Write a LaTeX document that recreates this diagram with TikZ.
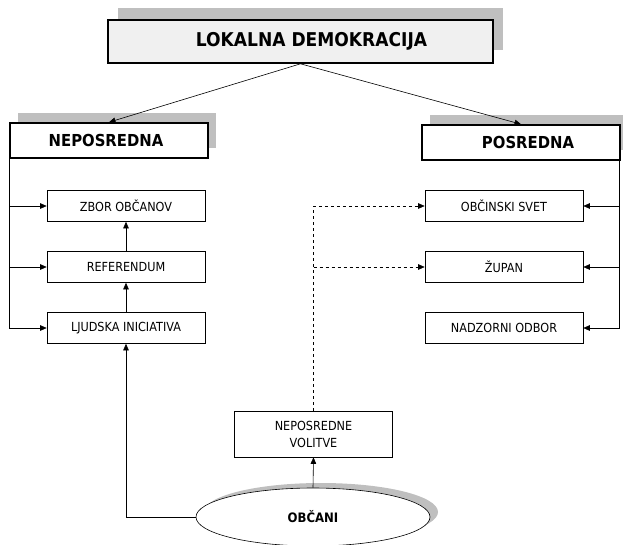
\documentclass[tikz,border=0pt]{standalone}
\usepackage{fontspec}
\setmainfont{DejaVu Sans}[FakeStretch=0.9]
\usetikzlibrary{shapes.geometric,arrows.meta}

\tikzset{
	glava/.style={draw, line width=1.6pt, minimum width=198pt, minimum height=35pt, fill=white, font=\bfseries\fontsize{16.5}{18}\selectfont},
	okvir/.style={draw, line width=0.6pt, minimum width=158pt, minimum height=31pt, font=\fontsize{12.5}{17}\selectfont},
	senca/.style={fill=black!25},
	>={Triangle[length=6.5pt,width=5.5pt]}
}

\begin{document}
\begin{tikzpicture}[x=1pt, y=-1pt]
	\useasboundingbox (0,0) rectangle (623,544);
	% senca
	\fill[senca] (118,8) rectangle (503,50);
	\fill[senca] (18,113) rectangle (216,148);
	\fill[senca] (430,115) rectangle (628,150);
	\fill[senca] (321,512) ellipse [x radius=117pt, y radius=29pt];

	\node[glava, minimum width=385pt, minimum height=43pt, fill=black!6, font=\bfseries\fontsize{19}{21}\selectfont] (LD) at (300.5,41.5) {\hspace*{22pt}LOKALNA DEMOKRACIJA};
	\node[glava] (NEP) at (109,140.5) {NEPOSREDNA\hspace*{6pt}};
	\node[glava] (POS) at (521,142.5) {\hspace*{14pt}POSREDNA};

	\node[okvir] (ZBOR) at (126,206) {ZBOR OBČANOV};
	\node[okvir] (REF) at (126,267) {REFERENDUM};
	\node[okvir] (LJI) at (126,328) {LJUDSKA INICIATIVA};

	\node[okvir] (OBS) at (504,206) {OBČINSKI SVET};
	\node[okvir] (ZUP) at (504,267) {ŽUPAN};
	\node[okvir] (NAD) at (504,328) {NADZORNI ODBOR};

	\node[okvir, minimum height=46pt, align=center] (NV) at (313.5,434) {NEPOSREDNE\\VOLITVE};
	\node[draw, ellipse, line width=0.6pt, fill=white, minimum width=234pt, minimum height=58pt, font=\bfseries\fontsize{13}{15}\selectfont] (OBC) at (313,517) {OBČANI};

	\draw[->, line width=0.6pt] (LD.south) -- (NEP.north);
	\draw[->, line width=0.6pt] (LD.south) -- (POS.north);

	\draw[->, line width=0.6pt] (NEP.south west) |- (LJI.west);
	\draw[->, line width=0.6pt] (NEP.south west |- ZBOR.west) -- (ZBOR.west);
	\draw[->, line width=0.6pt] (NEP.south west |- REF.west) -- (REF.west);
	\draw[->, line width=0.6pt] (REF.north) -- (ZBOR.south);
	\draw[->, line width=0.6pt] (LJI.north) -- (REF.south);

	\draw[->, line width=0.6pt] ([xshift=-2pt]POS.south east) |- (NAD.east);
	\draw[->, line width=0.6pt] ([xshift=-2pt]POS.south east |- OBS.east) -- (OBS.east);
	\draw[->, line width=0.6pt] ([xshift=-2pt]POS.south east |- ZUP.east) -- (ZUP.east);

	\draw[->, dashed, line width=0.6pt] (NV.north) |- (OBS.west);
	\draw[->, dashed, line width=0.6pt] (NV.north |- ZUP.west) -- (ZUP.west);

	\draw[->, line width=0.6pt] (OBC.north) -- (NV.south);
	\draw[->, line width=0.6pt] (OBC.west) -| (LJI.south);
\end{tikzpicture}
\end{document}
